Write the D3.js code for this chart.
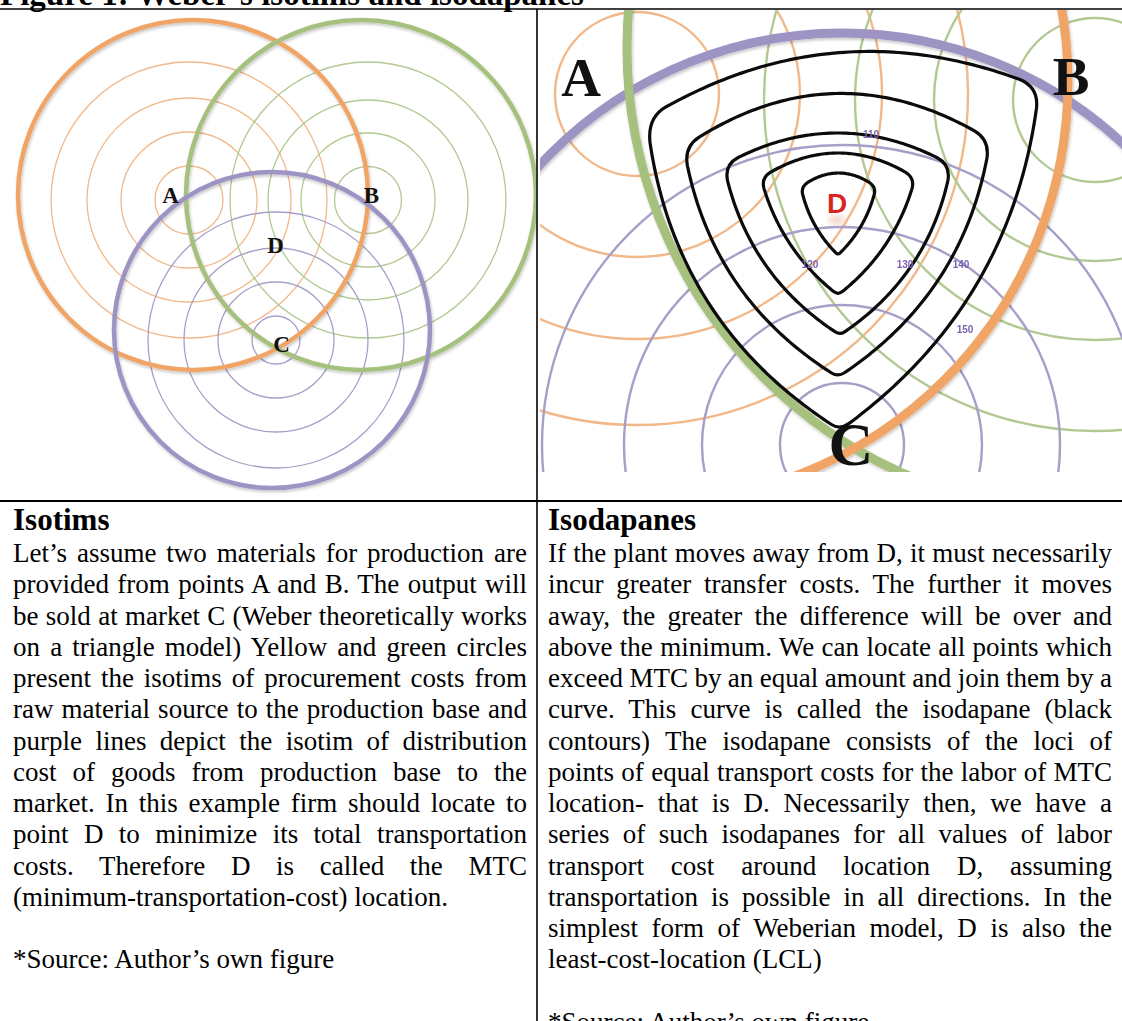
<!DOCTYPE html>
<html>
<head>
<meta charset="utf-8">
<script src="https://cdn.jsdelivr.net/npm/d3@7"></script>
<style>
body { margin: 0; background: #fff; }
svg { display: block; }
.title { font-family: "Liberation Serif", serif; font-weight: bold; font-size: 33px; }
.head { font-family: "Liberation Serif", serif; font-weight: bold; font-size: 31px; }
.body { font-family: "Liberation Serif", serif; font-size: 27px; }
.site { font-family: "Liberation Serif", serif; font-weight: bold; }
</style>
</head>
<body>
<svg id="fig" width="1122" height="1021"></svg>
<script>
// ---------- left figure: isotims (map units, 1 unit = 2px) ----------
const siteNames = ["A", "B", "C"];
const leftRingX = [94.5, 184, 138];
const leftRingY = [95, 95, 165];
const leftRingRadii = [[17, 34, 51, 69], [16.75, 33.5, 50, 69], [12, 29, 46, 64]];
const leftOuterX = [96.5, 180.5, 136];
const leftOuterY = [92.5, 92.5, 160];
const leftOuterR = [87.5, 87.5, 79];
const leftLabels = ["A", "B", "D", "C"];
const leftLabelX = [85.25, 185.75, 137.75, 140.75];
const leftLabelY = [96.5, 96.5, 121.5, 171];

// ---------- right figure: zoomed view with isodapanes (1 unit = 5px) ----------
const rightRingX = [20, 111.6, 61];
const rightRingY = [16.8, 18, 87];
const rightRingRadii = [[16.4, 32.6, 49, 66.2], [16.4, 32.2, 48, 66.2], [12.4, 28, 43.6, 60]];
const rightOuterX = [22, 111.2, 61];
const rightOuterY = [14.4, 7.6, 87];
const rightOuterR = [84.2, 93.2, 82.4];
const rightLabels = ["A", "B", "C"];
const rightLabelX = [8.8, 106.8, 62.8];
const rightLabelY = [17.2, 17, 91];
const mtcLabel = "D";
const mtcX = 60, mtcY = 40.6;

// isodapanes, inner to outer: corner points (top-left, top-right, bottom) and edge bulges
const isoTopLeft = [[52.8, 35.4], [44.8, 33.6], [37.4, 31], [29.4, 27.4], [22, 21.6]];
const isoTopRight = [[67.8, 35.4], [75.6, 33.6], [82.8, 31], [90.6, 26], [100.4, 15.4]];
const isoBottom = [[60.2, 49], [60.2, 57], [60.6, 65], [60.2, 73.4], [60.6, 84]];
const isoBulgeTop = [2.8, 5, 6.4, 10, 10];
const isoBulgeSide = [1.2, 2.4, 4.4, 6.4, 9];

// cost labels on the isotims
const costLabels = ["110", "120", "130", "140", "150"];
const costX = [66.8, 54.6, 73.6, 84.8, 85.6];
const costY = [25.6, 51.6, 51.6, 51.6, 64.6];

// ---------- text ----------
const figTitle = "Figure 1: Weber\u2019s isotims and isodapanes";
const leftHead = "Isotims";
const leftLines = [
  "Let\u2019s assume two materials for production are",
  "provided from points A and B. The output will",
  "be sold at market C (Weber theoretically works",
  "on a triangle model) Yellow and green circles",
  "present the isotims of procurement costs from",
  "raw material source to the production base and",
  "purple lines depict the isotim of distribution",
  "cost of goods from production base to the",
  "market. In this example firm should locate to",
  "point D to minimize its total transportation",
  "costs. Therefore D is called the MTC",
  "(minimum-transportation-cost) location."
];
const rightHead = "Isodapanes";
const rightLines = [
  "If the plant moves away from D, it must necessarily",
  "incur greater transfer costs. The further it moves",
  "away, the greater the difference will be over and",
  "above the minimum. We can locate all points which",
  "exceed MTC by an equal amount and join them by a",
  "curve. This curve is called the isodapane (black",
  "contours) The isodapane consists of the loci of",
  "points of equal transport costs for the labor of MTC",
  "location- that is D. Necessarily then, we have a",
  "series of such isodapanes for all values of labor",
  "transport cost around location D, assuming",
  "transportation is possible in all directions. In the",
  "simplest form of Weberian model, D is also the",
  "least-cost-location (LCL)"
];
const sourceNote = "*Source: Author\u2019s own figure";

const thickCol = ["#f0a566", "#a5c17d", "#9d94c4"];
const thinCol = ["#f1b88a", "#b2c994", "#a79fc8"];

const svg = d3.select("#fig");
const defs = svg.append("defs");
const shadow = defs.append("filter").attr("id", "shadow")
  .attr("x", "-20%").attr("y", "-20%").attr("width", "140%").attr("height", "140%");
shadow.append("feDropShadow").attr("dx", 1).attr("dy", 2).attr("stdDeviation", 1.6)
  .attr("flood-color", "#000").attr("flood-opacity", 0.22);
const soft = defs.append("filter").attr("id", "soft");
soft.append("feGaussianBlur").attr("stdDeviation", 0.45);
const glow = defs.append("filter").attr("id", "glow");
glow.append("feGaussianBlur").attr("stdDeviation", 3);

defs.append("clipPath").attr("id", "clipL").append("rect")
  .attr("x", 0).attr("y", 10).attr("width", 536).attr("height", 484);
defs.append("clipPath").attr("id", "clipR").append("rect")
  .attr("x", 540).attr("y", 10).attr("width", 582).attr("height", 462);

// ---------- left panel ----------
const lx = d3.scaleLinear().domain([0, 268.5]).range([0, 537]);
const ly = d3.scaleLinear().domain([0, 245]).range([10, 500]);
const lr = r => lx(r) - lx(0);

const gL = svg.append("g").attr("clip-path", "url(#clipL)").append("g").attr("filter", "url(#soft)");

siteNames.forEach((s, i) => {
  gL.append("g").selectAll("circle")
    .data(leftRingRadii[i])
    .join("circle")
    .attr("cx", lx(leftRingX[i]))
    .attr("cy", ly(leftRingY[i]))
    .attr("r", d => lr(d))
    .attr("fill", "none")
    .attr("stroke", thinCol[i])
    .attr("stroke-width", 1.3);
});

gL.append("g").attr("filter", "url(#shadow)").selectAll("circle")
  .data(leftOuterR)
  .join("circle")
  .attr("cx", (d, i) => lx(leftOuterX[i]))
  .attr("cy", (d, i) => ly(leftOuterY[i]))
  .attr("r", d => lr(d))
  .attr("fill", "none")
  .attr("stroke", (d, i) => thickCol[i])
  .attr("stroke-width", 4.5);

svg.append("g").selectAll("text")
  .data(leftLabels)
  .join("text")
  .attr("class", "site")
  .attr("x", (d, i) => lx(leftLabelX[i]))
  .attr("y", (d, i) => ly(leftLabelY[i]))
  .attr("text-anchor", "middle")
  .attr("font-size", 23)
  .attr("fill", "#111")
  .text(d => d);

// ---------- right panel ----------
const rx = d3.scaleLinear().domain([0, 117]).range([537, 1122]);
const ry = d3.scaleLinear().domain([0, 98.2]).range([10, 501]);
const rr = r => rx(r) - rx(0);

const gR = svg.append("g").attr("clip-path", "url(#clipR)").append("g").attr("filter", "url(#soft)");

siteNames.forEach((s, i) => {
  gR.append("g").selectAll("circle")
    .data(rightRingRadii[i])
    .join("circle")
    .attr("cx", rx(rightRingX[i]))
    .attr("cy", ry(rightRingY[i]))
    .attr("r", d => rr(d))
    .attr("fill", "none")
    .attr("stroke", thinCol[i])
    .attr("stroke-width", 2.4);
});

// thick isotims: purple under green under orange
const outerOrder = [2, 1, 0];
gR.append("g").attr("filter", "url(#shadow)").selectAll("circle")
  .data(outerOrder)
  .join("circle")
  .attr("cx", i => rx(rightOuterX[i]))
  .attr("cy", i => ry(rightOuterY[i]))
  .attr("r", i => rr(rightOuterR[i]))
  .attr("fill", "none")
  .attr("stroke", i => thickCol[i])
  .attr("stroke-width", 9);

// isodapane outline: bulged edges, rounded corners
function isodapane(k) {
  const v = [isoTopLeft[k], isoTopRight[k], isoBottom[k]].map(p => [rx(p[0]), ry(p[1])]);
  const bulge = [isoBulgeTop[k], isoBulgeSide[k], isoBulgeSide[k]].map(b => rr(b));
  const rho = [7 + 3.5 * k, 7 + 3.5 * k, 3 + 1.2 * k];
  const cen = [(v[0][0] + v[1][0] + v[2][0]) / 3, (v[0][1] + v[1][1] + v[2][1]) / 3];
  const edges = [];
  for (let e = 0; e < 3; e++) {
    const a = v[e], b = v[(e + 1) % 3];
    const mid = [(a[0] + b[0]) / 2, (a[1] + b[1]) / 2];
    const len = Math.hypot(b[0] - a[0], b[1] - a[1]);
    let n = [-(b[1] - a[1]) / len, (b[0] - a[0]) / len];
    if (n[0] * (mid[0] - cen[0]) + n[1] * (mid[1] - cen[1]) < 0) n = [-n[0], -n[1]];
    const c = [mid[0] + n[0] * 2 * bulge[e], mid[1] + n[1] * 2 * bulge[e]];
    const pts = [];
    for (let j = 0; j <= 80; j++) {
      const t = j / 80, u = 1 - t;
      pts.push([u * u * a[0] + 2 * u * t * c[0] + t * t * b[0], u * u * a[1] + 2 * u * t * c[1] + t * t * b[1]]);
    }
    const cum = [0];
    for (let j = 1; j < pts.length; j++) cum.push(cum[j - 1] + Math.hypot(pts[j][0] - pts[j - 1][0], pts[j][1] - pts[j - 1][1]));
    const L = cum[cum.length - 1];
    edges.push(pts.filter((p, j) => cum[j] >= rho[e] && cum[j] <= L - rho[(e + 1) % 3]));
  }
  const p = d3.path();
  p.moveTo(edges[0][0][0], edges[0][0][1]);
  for (let e = 0; e < 3; e++) {
    edges[e].forEach(q => p.lineTo(q[0], q[1]));
    const corner = v[(e + 1) % 3];
    const next = edges[(e + 1) % 3][0];
    p.quadraticCurveTo(corner[0], corner[1], next[0], next[1]);
  }
  p.closePath();
  return p.toString();
}

svg.append("g").attr("clip-path", "url(#clipR)").selectAll("path")
  .data(isoTopLeft.map((d, k) => k))
  .join("path")
  .attr("d", k => isodapane(k))
  .attr("fill", "none")
  .attr("stroke", "#0b0b0b")
  .attr("stroke-width", 3.2)
  .attr("stroke-linejoin", "round");

svg.append("g").attr("filter", "url(#soft)").selectAll("text")
  .data(costLabels)
  .join("text")
  .attr("x", (d, i) => rx(costX[i]))
  .attr("y", (d, i) => ry(costY[i]))
  .attr("text-anchor", "middle")
  .attr("font-family", "Liberation Sans, sans-serif")
  .attr("font-weight", "bold")
  .attr("font-size", 10)
  .attr("fill", "#7b62b0")
  .text(d => d);

// red D with a faint glow beneath (reflection)
svg.append("ellipse")
  .attr("cx", rx(mtcX)).attr("cy", ry(mtcY) + 7)
  .attr("rx", 9).attr("ry", 5)
  .attr("fill", "#e9a48f").attr("opacity", 0.45)
  .attr("filter", "url(#glow)");
svg.append("text")
  .attr("x", rx(mtcX)).attr("y", ry(mtcY))
  .attr("text-anchor", "middle")
  .attr("font-family", "Liberation Sans, sans-serif")
  .attr("font-weight", "bold").attr("font-size", 28)
  .attr("fill", "#d8261d")
  .text(mtcLabel);

svg.append("g").selectAll("text")
  .data(rightLabels)
  .join("text")
  .attr("class", "site")
  .attr("x", (d, i) => rx(rightLabelX[i]))
  .attr("y", (d, i) => ry(rightLabelY[i]))
  .attr("text-anchor", "middle")
  .attr("font-size", (d, i) => i === 2 ? 62 : 55)
  .attr("fill", "#111")
  .text(d => d);

// ---------- table frame and title ----------
svg.append("text").attr("class", "title").attr("x", 0).attr("y", 5).text(figTitle);
const frame = svg.append("g").attr("stroke", "#000");
frame.append("line").attr("x1", 0).attr("x2", 1122).attr("y1", 9).attr("y2", 9).attr("stroke-width", 1.6);
frame.append("line").attr("x1", 0).attr("x2", 1122).attr("y1", 501).attr("y2", 501).attr("stroke-width", 2.2);
frame.append("line").attr("x1", 537).attr("x2", 537).attr("y1", 9).attr("y2", 1021).attr("stroke-width", 1.6);

// ---------- text cells ----------
const rowY = i => 562 + i * 31.25;
function cell(x0, x1, head, lines) {
  svg.append("text").attr("class", "head").attr("x", x0).attr("y", 530).text(head);
  lines.forEach((ln, i) => {
    const t = svg.append("text").attr("class", "body").attr("x", x0).attr("y", rowY(i)).text(ln);
    if (i < lines.length - 1) {
      const gaps = (ln.match(/ /g) || []).length;
      const w = t.node().getComputedTextLength();
      if (gaps) t.style("word-spacing", ((x1 - x0 - w) / gaps) + "px");
    }
  });
  svg.append("text").attr("class", "body").attr("x", x0).attr("y", rowY(lines.length + 1)).text(sourceNote);
}
cell(13, 527, leftHead, leftLines);
cell(548, 1112, rightHead, rightLines);
</script>
</body>
</html>
